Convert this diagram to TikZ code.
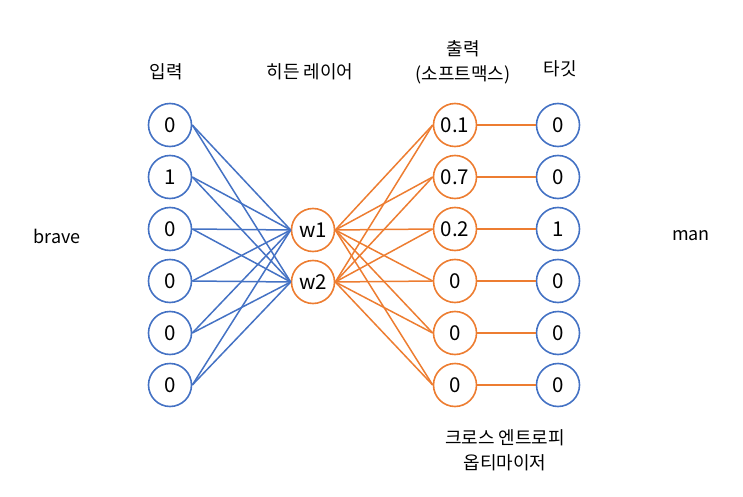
\documentclass[tikz,border=0pt]{standalone}
\usepackage{fontspec}
\setmainfont{Noto Sans CJK KR}
\definecolor{nnblue}{HTML}{4472C4}
\definecolor{nnorange}{HTML}{ED7D31}
\begin{document}
\begin{tikzpicture}[x=1pt,y=-1pt,
  unit/.style={circle,draw,line width=1.6pt,minimum size=43pt,inner sep=0pt,font=\fontsize{20.5}{20.5}\selectfont,fill=white},
  bunit/.style={unit,draw=nnblue},
  ounit/.style={unit,draw=nnorange},
  bline/.style={draw=nnblue,line width=1.5pt},
  oline/.style={draw=nnorange,line width=1.5pt},
  lbl/.style={font=\fontsize{18}{25}\selectfont,align=center,inner sep=0pt}]
\useasboundingbox (0,0) rectangle (743,497);
% input
\foreach \v [count=\i] in {0,1,0,0,0,0} {
  \pgfmathsetmacro{\yy}{125+ (\i-1)*52}
  \node[bunit] (in\i) at (170,\yy) {\v};
}
% hidden
\node[ounit] (h1) at (313,230) {w1};
\node[ounit] (h2) at (313,282) {w2};
% output and target
\foreach \v/\t [count=\i] in {0.1/0,0.7/0,0.2/1,0/0,0/0,0/0} {
  \pgfmathsetmacro{\yy}{125+ (\i-1)*52}
  \node[ounit] (o\i) at (455,\yy) {\v};
  \node[bunit] (t\i) at (558,\yy) {\t};
}
% connections
\foreach \i in {1,...,6} {
  \draw[bline] (in\i.east) -- (h1.west);
  \draw[bline] (in\i.east) -- (h2.west);
  \draw[oline] (h1.east) -- (o\i.west);
  \draw[oline] (h2.east) -- (o\i.west);
  \draw[oline] (o\i.east) -- (t\i.west);
}
% labels
\node[lbl] (l1) at (166,72) {입력};
\node[lbl] (l2) at (310,72) {히든 레이어};
\node[lbl] (l3) at (463,62) {출력\\(소프트맥스)};
\node[lbl] (l4) at (560,69) {타깃};
\node[lbl] (l5) at (57,236) {brave};
\node[lbl] (l6) at (691,236) {man};
\node[lbl] (l7) at (505,450) {크로스 엔트로피\\옵티마이저};
\end{tikzpicture}
\end{document}
